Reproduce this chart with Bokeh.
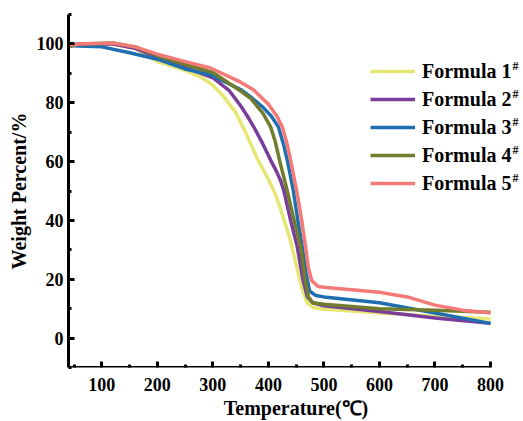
from bokeh.plotting import figure
from bokeh.models import Legend, LegendItem, FixedTicker, Range1d, Label
from bokeh.embed import file_html
from bokeh.resources import INLINE

# ---- data ----
series_names = ["Formula 1", "Formula 2", "Formula 3", "Formula 4", "Formula 5"]
series_colors = ["#E6E672", "#7A3D9C", "#1F6EB0", "#717D2C", "#F47A78"]

temp_f1 = [40, 60, 120, 160, 200, 250, 280, 300, 320, 340, 360, 380, 400, 410, 420, 430, 440, 450, 460, 470, 480, 500, 550, 600, 650, 700, 750, 800]
wt_f1 = [99, 100, 100, 98.5, 94, 91, 88.5, 86, 82, 77, 69.5, 61, 54, 50, 45, 39, 33, 25, 17, 12, 10.5, 9.8, 9.2, 8.5, 8, 7.3, 7, 6.5]

temp_f2 = [40, 60, 120, 160, 200, 250, 300, 330, 350, 362, 373, 390, 404, 415, 422, 428, 440, 452, 462, 470, 480, 500, 600, 700, 800]
wt_f2 = [99.5, 100, 100, 98.5, 95.5, 92, 88.5, 84, 79, 75.5, 72, 66, 60.5, 56.5, 53.5, 50, 40, 31, 20, 14, 12, 11, 9, 6.8, 5]

temp_f3 = [40, 60, 100, 150, 200, 250, 296, 350, 368, 390, 405, 418, 427, 434, 445, 453, 461, 468, 474, 485, 500, 600, 700, 800]
wt_f3 = [99.5, 99.3, 99, 97, 94.8, 91.5, 89.5, 84.5, 82, 78.5, 75.5, 71.8, 66, 60.5, 50, 40, 31, 22, 16, 14.5, 14, 12, 8.5, 5]

temp_f4 = [40, 60, 120, 160, 200, 250, 300, 350, 368, 390, 404, 412, 420, 434, 445, 458, 466, 472, 480, 500, 600, 700, 800]
wt_f4 = [99, 100, 100.3, 99, 96, 93, 90.3, 84, 81.5, 76.5, 71.8, 67, 60.5, 50, 41, 31, 20, 14, 12, 11.5, 10, 9.5, 8.8]

temp_f5 = [40, 60, 120, 160, 200, 250, 296, 350, 373, 400, 415, 425, 433, 440, 451, 460, 467, 472, 478, 490, 500, 600, 650, 700, 750, 800]
wt_f5 = [99.5, 100, 100.3, 99, 96.5, 94, 91.8, 87, 84.4, 79.5, 75.5, 71.8, 66.5, 60.5, 50, 40, 31, 24, 19.5, 17.5, 17.3, 15.6, 14, 11.2, 9.5, 8.5]

x_ticks = [100, 200, 300, 400, 500, 600, 700, 800]
x_minor = [50, 150, 250, 350, 450, 550, 650, 750]
y_ticks = [0, 20, 40, 60, 80, 100]
y_minor = [-10, 10, 30, 50, 70, 90, 110]

temps = [temp_f1, temp_f2, temp_f3, temp_f4, temp_f5]
wts = [wt_f1, wt_f2, wt_f3, wt_f4, wt_f5]

FONT = "Liberation Serif"
X_START, Y_START, Y_END = 40, -10, 110
X_VIEW_END = 859.4  # extra room on the right for the legend text

p = figure(width=523, height=421, output_backend="svg", toolbar_location=None,
           x_range=Range1d(X_START, X_VIEW_END), y_range=Range1d(Y_START, Y_END),
           min_border_left=68, min_border_right=0, min_border_top=14, min_border_bottom=54)
p.outline_line_color = None
p.grid.visible = False
p.background_fill_color = "white"

renderers = []
for t, w, c in zip(temps, wts, series_colors):
    r = p.line(t, w, line_color=c, line_width=3.5, line_join="round")
    renderers.append(r)

# x axis line only up to the last tick
p.segment(x0=[X_START], y0=[Y_START], x1=[x_ticks[-1]], y1=[Y_START],
          line_color="black", line_width=3)

for ax in (p.xaxis[0], p.yaxis[0]):
    ax.axis_line_width = 3
    ax.axis_line_color = "black"
    ax.major_tick_in = 6
    ax.major_tick_out = 0
    ax.minor_tick_in = 3
    ax.minor_tick_out = 0
    ax.major_tick_line_width = 3
    ax.minor_tick_line_width = 3
    ax.major_label_text_font = FONT
    ax.major_label_text_font_style = "bold"
    ax.major_label_text_font_size = "18px"
    ax.major_label_text_color = "black"
    ax.axis_label_text_font = FONT
    ax.axis_label_text_font_style = "bold"
    ax.axis_label_text_font_size = "20px"
    ax.axis_label_text_color = "black"

p.xaxis.axis_line_color = None
p.xaxis.ticker = FixedTicker(ticks=x_ticks, minor_ticks=x_minor)
p.yaxis.ticker = FixedTicker(ticks=y_ticks, minor_ticks=y_minor)
p.xaxis.axis_label = "Temperature(℃)"
p.yaxis.axis_label = "Weight Percent/%"
p.xaxis.axis_label_standoff = 3
p.yaxis.axis_label_standoff = 4
p.xaxis.major_label_standoff = 10
p.yaxis.major_label_standoff = 5

LEG_X, LEG_Y, ROW = 302, 170, 28
items = [LegendItem(label=n, renderers=[r]) for n, r in zip(series_names, renderers)]
legend = Legend(items=items, location=(LEG_X, LEG_Y), orientation="vertical",
                glyph_width=45, glyph_height=ROW, label_height=ROW, label_standoff=7,
                spacing=0, padding=0, margin=0,
                label_text_font=FONT, label_text_font_style="bold",
                label_text_font_size="20px", label_text_color="black",
                border_line_alpha=0, background_fill_alpha=0)
p.add_layout(legend, "center")

for i in range(len(series_names)):
    p.add_layout(Label(x=LEG_X + 142, y=LEG_Y + ROW // 2 + ROW * (4 - i) + 6,
                       x_units="screen", y_units="screen",
                       text="#", text_font=FONT, text_font_style="bold",
                       text_font_size="12px", text_color="black", text_baseline="middle"))

open("out.html", "w").write(file_html(p, INLINE))
